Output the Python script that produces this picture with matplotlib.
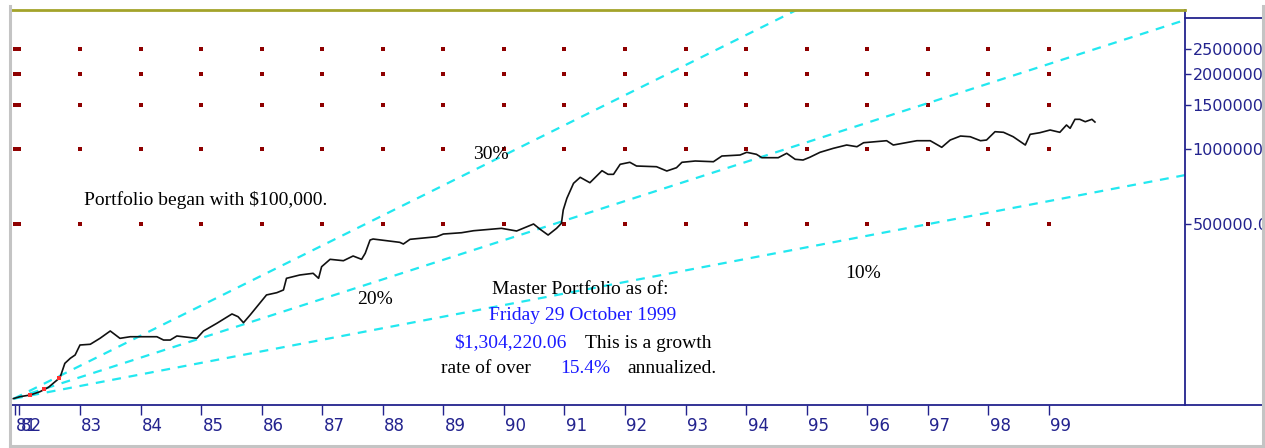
import numpy as np
import matplotlib
matplotlib.use("Agg")
import matplotlib.pyplot as plt
from matplotlib.lines import Line2D
import matplotlib.transforms as mtransforms

# ---------------- data ----------------
years = [1981.90, 1982.01, 1982.18, 1982.34, 1982.48, 1982.59, 1982.67, 1982.75, 1982.84, 1982.92,
         1983.00, 1983.17, 1983.33, 1983.50, 1983.66, 1983.83, 1984.27, 1984.38, 1984.49, 1984.60,
         1984.93, 1985.04, 1985.26, 1985.51, 1985.61, 1985.70, 1985.81, 1986.08, 1986.25, 1986.36,
         1986.41, 1986.63, 1986.85, 1986.94, 1986.99, 1987.13, 1987.35, 1987.51, 1987.65, 1987.71,
         1987.79, 1987.84, 1988.28, 1988.34, 1988.45, 1988.89, 1989.00, 1989.30, 1989.50, 1989.96,
         1990.21, 1990.49, 1990.60, 1990.73, 1990.87, 1990.95, 1990.98, 1991.04, 1991.15, 1991.26,
         1991.42, 1991.62, 1991.72, 1991.81, 1991.92, 1992.08, 1992.19, 1992.52, 1992.69, 1992.85,
         1992.94, 1993.16, 1993.46, 1993.60, 1993.90, 1994.01, 1994.17, 1994.26, 1994.53, 1994.67,
         1994.81, 1994.94, 1995.05, 1995.22, 1995.44, 1995.66, 1995.83, 1995.94, 1996.32, 1996.43,
         1996.82, 1997.04, 1997.23, 1997.37, 1997.54, 1997.70, 1997.87, 1997.97, 1998.11, 1998.25,
         1998.41, 1998.61, 1998.69, 1998.85, 1999.02, 1999.18, 1999.29, 1999.35, 1999.43, 1999.51,
         1999.60, 1999.71, 1999.76]
values = [100000, 101800, 103400, 106600, 111000, 116900, 121300, 138400, 145000, 149500,
          163900, 165000, 174300, 186500, 174300, 176900, 176900, 171600, 171600, 178100,
          174300, 186500, 200200, 218200, 212800, 201300, 216200, 260000, 265500, 272200,
          303100, 312500, 317400, 303100, 337300, 361100, 356500, 372300, 361100, 381700,
          431400, 435400, 422300, 415800, 434200, 444700, 455900, 461400, 470000, 480500,
          468800, 500000, 476000, 451700, 480500, 503200, 568900, 633600, 727600, 769000,
          731600, 817300, 790400, 790400, 867000, 883100, 853400, 847900, 815100, 840100,
          883100, 893700, 887900, 935800, 944500, 968300, 950600, 921300, 921300, 959400,
          907800, 901900, 924700, 968300, 1004600, 1035600, 1019500, 1057800, 1077500, 1035600,
          1077500, 1077500, 1013900, 1084400, 1125100, 1117900, 1077500, 1084400, 1170800, 1164300,
          1117900, 1035600, 1142900, 1160000, 1189200, 1164300, 1245400, 1208200, 1312400, 1312400,
          1283700, 1312400, 1280000]

# small red highlights on the early part of the line
red_years = [1982.18, 1982.40, 1982.65]
red_values = [103000, 109300, 121000]

# growth reference lines (start / end)
growth_labels = ["30%", "20%", "10%"]
growth_start_year = 1981.91
growth_end_year = 2001.25
growth_start_value = 100000
growth_end_values = [21300000, 3280000, 785000]

x_tick_years = [1981.92, 1982, 1983, 1984, 1985, 1986, 1987, 1988, 1989, 1990,
                1991, 1992, 1993, 1994, 1995, 1996, 1997, 1998, 1999]
x_tick_labels = ["81", "82", "83", "84", "85", "86", "87", "88", "89", "90",
                 "91", "92", "93", "94", "95", "96", "97", "98", "99"]
y_tick_values = [500000, 1000000, 1500000, 2000000, 2500000]
y_tick_labels = ["500000.0", "1000000", "1500000", "2000000", "2500000"]

# ---------------- figure ----------------
W, H = 1265, 448
fig = plt.figure(figsize=(W / 100, H / 100), dpi=100)
fig.patch.set_facecolor("white")

L, R, T, B = 11, 1185, 10, 405
ax = fig.add_axes([L / W, (H - B) / H, (R - L) / W, (B - T) / H])
ax.set_facecolor("white")
ax.set_yscale("log")
ax.set_xlim(1981.861, 2001.247)
ax.set_ylim(94280, 3595000)

navy = "#23238e"
cyan = "#22e8f0"
darkred = "#8e0000"
blue = "#1a1aff"

# grid dots
gx, gy = np.meshgrid(x_tick_years, y_tick_values)
ax.scatter(gx.ravel(), gy.ravel(), marker="s", s=10, color=darkred, linewidths=0, zorder=1)

# growth lines
for ev in growth_end_values:
    ax.plot([growth_start_year, growth_end_year], [growth_start_value, ev],
            color=cyan, lw=1.6, dashes=(4, 3.5), zorder=2)

# portfolio line
ax.plot(years, values, color="#111111", lw=1.2, zorder=3)
ax.scatter(red_years, red_values, marker="s", s=5, color="#ff3030", linewidths=0, zorder=4)

# axes styling
ax.spines["left"].set_visible(False)
ax.spines["top"].set_color("#a3a32a")
ax.spines["top"].set_linewidth(2)
ax.spines["bottom"].set_color(navy)
ax.spines["bottom"].set_linewidth(1.3)
ax.spines["right"].set_color(navy)
ax.spines["right"].set_linewidth(1.3)

ax.set_xticks(x_tick_years)
ax.set_xticklabels(x_tick_labels)
ax.tick_params(axis="x", direction="out", length=7.5, width=1, color=navy,
               labelcolor=navy, labelsize=12, pad=1)
offset = mtransforms.ScaledTranslation(1.0 / 72, 0, fig.dpi_scale_trans)
for lab in ax.get_xticklabels():
    lab.set_ha("left")
    lab.set_transform(lab.get_transform() + offset)

ax.yaxis.tick_right()
ax.set_yticks(y_tick_values)
ax.set_yticklabels(y_tick_labels)
ax.yaxis.set_minor_locator(matplotlib.ticker.NullLocator())
ax.tick_params(axis="y", direction="out", length=4.5, width=1, color=navy,
               labelcolor=navy, labelsize=11.5, pad=1)

# texts
serif = ["Liberation Serif", "DejaVu Serif"]
fs = 14
def axfrac(px, py):
    return ((px - L) / (R - L), (B - py) / (B - T))

def txt(px, py, s, color="black", ha="center"):
    x, y = axfrac(px, py)
    ax.text(x, y, s, transform=ax.transAxes, ha=ha, va="center", fontsize=fs,
            family=serif, color=color, zorder=5)

txt(206, 200, "Portfolio began with $100,000.")
txt(491, 155, growth_labels[0])
txt(375, 300, growth_labels[1])
txt(863, 273, growth_labels[2])
txt(580, 290, "Master Portfolio as of:")
txt(583, 315, "Friday 29 October 1999", color=blue)
txt(510, 343, "$1,304,220.06", color=blue)
txt(648, 343, "This is a growth")
txt(486, 368, "rate of over")
txt(585, 368, "15.4%", color=blue)
txt(672, 368, "annualized.")

# frame decorations (figure pixel coords)
def fline(x0, y0, x1, y1, color, lw):
    fig.add_artist(Line2D([x0 / W, x1 / W], [1 - y0 / H, 1 - y1 / H], color=color,
                          lw=lw, transform=fig.transFigure))

fline(R, 18, W, 18, navy, 1.3)
fline(R, B, W - 3, B, navy, 1.3)
fline(9.5, 6, 9.5, 446, "#c4c4c4", 2.2)
fline(9.5, 446, W - 3, 446, "#c4c4c4", 2.2)
fline(W - 2.5, 6, W - 2.5, 446, "#c4c4c4", 2.2)

fig.savefig("out.png", dpi=100)
